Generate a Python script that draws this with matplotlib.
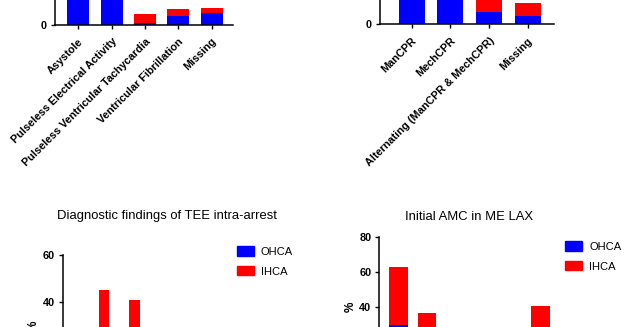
import numpy as np
import matplotlib
matplotlib.use("Agg")
import matplotlib.pyplot as plt
from matplotlib.patches import Patch

plt.rcParams['font.family'] = ['Liberation Sans', 'DejaVu Sans']

# ---- data ----
rhythm_cats = ['Asystole', 'Pulseless Electrical Activity', 'Pulseless Ventricular Tachycardia',
               'Ventricular Fibrillation', 'Missing']
rhythm_ohca = [40, 35, 0.7, 3.9, 5.1]
rhythm_ihca = [8, 12, 4.0, 2.9, 2.3]

cpr_cats = ['ManCPR', 'MechCPR', 'Alternating (ManCPR & MechCPR)', 'Missing']
cpr_ohca = [45, 40, 5.5, 3.7]
cpr_ihca = [10, 5, 6.5, 5.4]

diag_ohca = [20, 25, 12, 15, 8]
diag_ihca = [45, 41, 10, 8, 5]

amc_ohca = [30, 20, 8, 10, 6, 25]
amc_ihca = [33, 17, 10, 5, 4, 16]

BLUE = '#0000FF'
RED = '#FF0000'
W, H = 624, 327

fig = plt.figure(figsize=(W / 100, H / 100), dpi=100)


def px_axes(left, top, right, bottom):
    return fig.add_axes([left / W, 1 - bottom / H, (right - left) / W, (bottom - top) / H])


def style(ax, ymax, step, shown=None, ylabel=True):
    for s in ['top', 'right']:
        ax.spines[s].set_visible(False)
    for s in ['left', 'bottom']:
        ax.spines[s].set_linewidth(1.1)
    ax.set_ylim(0, ymax)
    ticks = np.arange(0, ymax + 1, step)
    ax.set_yticks(ticks)
    # only label the ticks that fall inside the visible crop
    if shown is not None:
        ax.set_yticklabels([str(t) if t in shown else '' for t in ticks])
    ax.tick_params(axis='both', length=3.2, width=1.0, labelsize=7.8, pad=2.5)
    ax.tick_params(axis='x', pad=5)
    for lab in ax.get_yticklabels():
        lab.set_fontweight('bold')
    if ylabel:
        ax.set_ylabel('%', fontsize=8.5, fontweight='bold', labelpad=2)


def stacked(ax, cats, ohca, ihca, xlim, width=0.66):
    x = np.arange(len(ohca))
    ax.bar(x, ohca, width=width, color=BLUE)
    ax.bar(x, ihca, width=width, bottom=ohca, color=RED)
    ax.set_xlim(*xlim)
    ax.set_xticks(x)
    if cats is not None:
        ax.set_xticklabels(cats, rotation=45, ha='right', rotation_mode='anchor',
                           fontsize=9.3, fontweight='bold')


# top-left: rhythm
ax1 = px_axes(55, -113, 233, 25)
stacked(ax1, rhythm_cats, rhythm_ohca, rhythm_ihca, (-0.70, 4.64))
style(ax1, 60, 20, shown=[0], ylabel=False)

# top-right: CPR
ax2 = px_axes(380, -113.7, 553.5, 24.3)
stacked(ax2, cpr_cats, cpr_ohca, cpr_ihca, (-0.82, 3.67), width=0.67)
style(ax2, 60, 20, shown=[0], ylabel=False)

# bottom-left: diagnostic findings (grouped)
ax3 = px_axes(62.7, 255, 232, 396)
xg = np.arange(len(diag_ohca))
ax3.bar(xg - 0.175, diag_ohca, width=0.35, color=BLUE)
ax3.bar(xg + 0.175, diag_ihca, width=0.35, color=RED)
ax3.set_xlim(-1.19, 4.4)
ax3.set_xticks(xg)
ax3.set_xticklabels([])
style(ax3, 60, 20, shown=[40, 60])

# bottom-right: initial AMC
ax4 = px_axes(379.3, 237.3, 559, 377.3)
stacked(ax4, None, amc_ohca, amc_ihca, (-0.68, 5.64))
ax4.set_xticklabels([])
style(ax4, 80, 20, shown=[40, 60, 80])

# titles
fig.text(167 / W, 1 - 219 / H, 'Diagnostic findings of TEE intra-arrest',
         ha='center', va='baseline', fontsize=9.4)
fig.text(469 / W, 1 - 220 / H, 'Initial AMC in ME LAX',
         ha='center', va='baseline', fontsize=9.4)

# legends
handles = [Patch(color=BLUE, label='OHCA'), Patch(color=RED, label='IHCA')]
for (lx, ly) in [(236.7, 246.5), (565.3, 241.5)]:
    fig.legend(handles=handles, loc='upper left', bbox_to_anchor=(lx / W, 1 - ly / H),
               frameon=False, fontsize=8, borderpad=0, borderaxespad=0,
               handlelength=1.53, handleheight=0.87, handletextpad=0.62,
               labelspacing=0.85)

fig.savefig('out.png', dpi=100)
